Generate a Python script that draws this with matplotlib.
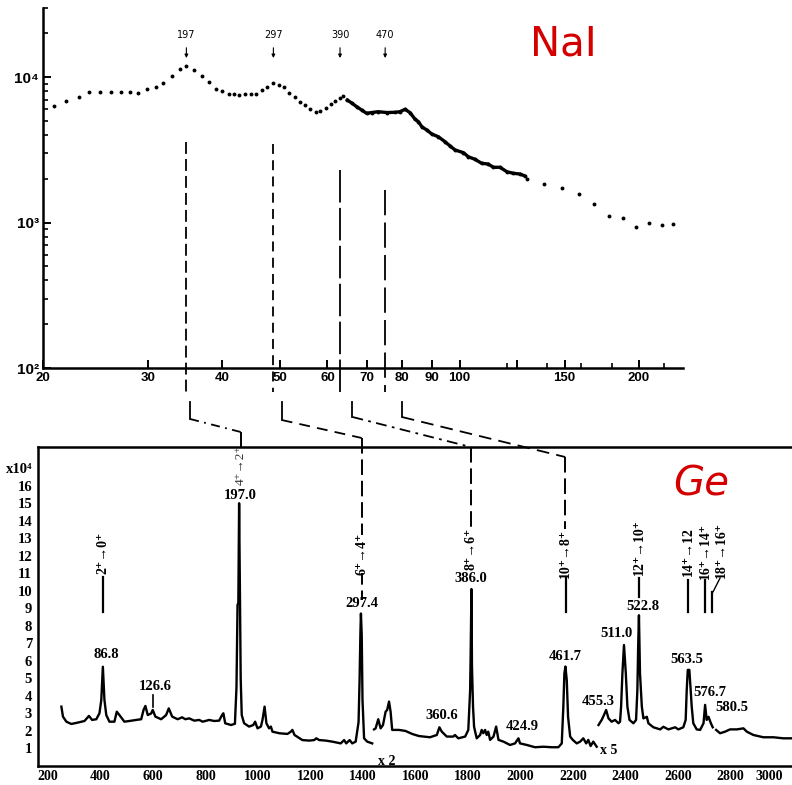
import numpy as np
import matplotlib.pyplot as plt
from matplotlib.lines import Line2D
from matplotlib.ticker import NullFormatter

W, H = 792, 785
SERIF = ['Liberation Serif', 'DejaVu Serif']
SANS = ['Liberation Sans', 'DejaVu Sans']

# ---- NaI spectrum (log-log) ----
nai_x = [20.9, 21.9, 23.0, 23.9, 24.9, 26.0, 27.0, 28.0, 28.9, 29.9, 30.9, 31.8, 32.9, 33.9,
         34.8, 35.9, 37.0, 38.0, 39.0, 40.0, 41.0, 41.9, 42.7, 43.6, 44.6, 45.6, 46.6, 47.6,
         48.7, 49.7, 50.7, 51.7, 52.9, 54.0, 55.0, 56.1, 57.4, 58.3, 59.6, 60.8, 61.9, 63.0, 63.7]
nai_y = [6350, 6840, 7290, 7850, 7850, 7850, 7850, 7850, 7760, 8230, 8540, 9140, 10160, 11290,
         11840, 11220, 10210, 9200, 8270, 8050, 7640, 7600, 7520, 7600, 7600, 7680, 8140, 8500,
         9140, 8850, 8500, 7800, 7255, 6760, 6420, 6000, 5775, 5835, 6150, 6493, 6870, 7175, 7400]
dense_x = [64.8, 66.0, 67.2, 68.6, 69.8, 71.2, 73.0, 75.5, 77.9, 79.4, 81.0, 82.6, 84.2, 85.3,
           86.4, 88.1, 89.8, 92.1, 94.5, 96.4, 98.3, 101.5, 103.4, 106.1, 108.9, 111.7, 113.9,
           116.9, 120.0, 123.1, 126.3, 128.7]
dense_y = [6950, 6595, 6250, 5905, 5630, 5700, 5775, 5700, 5720, 5775, 6000, 5683, 5120, 4930,
           4555, 4320, 4057, 3888, 3591, 3355, 3149, 3019, 2833, 2719, 2552, 2523, 2396,
           2396, 2234, 2178, 2154, 2087]
tail_x = [129.6, 138.7, 148.7, 158.8, 168.3, 178.3, 188.0, 198.0, 208.2, 218.5, 227.8]
tail_y = [1990, 1839, 1718, 1570, 1334, 1114, 1074, 936, 997, 961, 977]

nai_xticks = [20, 30, 40, 50, 60, 70, 80, 90, 100, 125, 150, 200]
nai_xlabels = ['20', '30', '40', '50', '60', '70', '80', '90', '100', '', '150', '200']
nai_xminor = [120, 140, 160, 180, 220]
nai_yticks = [1e2, 1e3, 1e4]
nai_ylabels = ['10²', '10³', '10⁴']

nai_peak_labels = ['197', '297', '390', '470']
nai_peak_x = [34.8, 48.7, 63.0, 75.0]
nai_link_top = [3575, 3460, 2300, 1670]
nai_link_low_x = [35.3, 50.3, 66.1, 80.0]

# ---- Ge spectrum (linear), counts in units of 1e4 ----
ge_seg1_ch = [251, 257, 270, 289, 314, 339, 356, 368, 384, 396, 403, 409, 415, 422, 434, 453,
              462, 472, 491, 510, 536, 555, 564, 571, 580, 593, 599, 609, 631, 650, 660, 673,
              694, 711, 723, 738, 757, 776, 789, 814, 833, 852, 863, 868, 875, 897, 912, 918,
              922, 925, 928, 931, 934, 938, 947, 966, 982, 989, 998, 1011, 1017, 1025, 1032,
              1042, 1049, 1055, 1081, 1112, 1125, 1131, 1139, 1169, 1195, 1214, 1222, 1233,
              1258, 1283, 1315, 1328, 1336, 1349, 1359, 1372, 1383, 1387, 1390, 1392, 1395,
              1398, 1404, 1416, 1435]
ge_seg1_v = [3.38, 2.81, 2.52, 2.39, 2.47, 2.56, 2.85, 2.62, 2.66, 3.0, 3.76, 5.66, 3.76, 2.9,
             2.52, 2.52, 3.09, 2.9, 2.52, 2.56, 2.62, 2.66, 3.19, 3.42, 2.9, 2.99, 3.19, 2.81,
             2.66, 2.9, 3.28, 2.81, 2.66, 2.77, 2.66, 2.71, 2.58, 2.62, 2.52, 2.62, 2.56, 2.58,
             2.9, 3.0, 2.43, 2.33, 2.4, 4.5, 9.2, 9.3, 15.0, 10.1, 5.0, 2.9, 2.43, 2.24, 2.33,
             2.52, 2.14, 2.24, 2.62, 3.38, 2.43, 2.14, 2.24, 1.95, 1.86, 1.82, 1.95, 2.05, 1.76,
             1.47, 1.44, 1.47, 1.57, 1.47, 1.44, 1.38, 1.28, 1.47, 1.28, 1.47, 1.28, 1.38, 2.5,
             5.0, 7.6, 8.7, 7.5, 3.76, 1.57, 1.38, 1.28]
ge_seg2_ch = [1442, 1448, 1458, 1467, 1476, 1486, 1492, 1499, 1505, 1511, 1537, 1562, 1587,
              1613, 1655, 1681, 1691, 1700, 1719, 1744, 1750, 1763, 1789, 1801, 1808, 1810,
              1813, 1815, 1819, 1823, 1833, 1846, 1852, 1858, 1865, 1871, 1877, 1884, 1897,
              1907, 1916, 1935, 1960, 1979, 1992, 1998, 2024, 2055, 2087, 2119, 2144, 2157,
              2163, 2167, 2171, 2176, 2181, 2189, 2199, 2214, 2227, 2239, 2250, 2258, 2267,
              2277, 2290]
ge_seg2_v = [2.08, 2.14, 2.66, 2.14, 2.33, 3.09, 3.19, 3.67, 3.09, 2.05, 2.05, 1.99, 1.82,
             1.7, 1.63, 1.76, 2.2, 1.95, 1.67, 1.67, 1.76, 1.57, 1.67, 2.05, 4.33, 6.4,
             10.1, 5.67, 3.38, 2.23, 1.57, 1.76, 2.05, 1.86, 2.05, 1.76, 1.95, 1.48, 1.67,
             2.24, 1.48, 1.38, 1.19, 1.28, 1.57, 1.28, 1.19, 1.06, 1.09, 1.06, 1.06, 1.28,
             3.38, 5.28, 5.67, 4.9, 2.8, 1.67, 1.48, 1.28, 1.38, 1.57, 1.28, 1.48, 1.13,
             1.38, 1.09]
ge_seg3_ch = [2297, 2309, 2316, 2326, 2335, 2347, 2360, 2373, 2379, 2383, 2388, 2394, 2401,
              2407, 2415, 2430, 2440, 2445, 2448, 2451, 2455, 2462, 2468, 2481, 2487, 2506,
              2532, 2544, 2563, 2589, 2601, 2620, 2629, 2633, 2637, 2643, 2648, 2652, 2658,
              2671, 2684, 2697, 2703, 2709, 2716, 2725, 2732]
ge_seg3_v = [2.33, 2.62, 2.84, 3.19, 2.71, 2.52, 2.62, 2.43, 2.52, 3.38, 5.28, 6.9, 5.28,
             3.38, 2.62, 2.43, 2.62, 4.33, 6.8, 8.6, 5.28, 3.38, 2.71, 2.8, 2.43, 2.2,
             2.08, 2.23, 2.08, 2.2, 2.08, 2.2, 2.62, 4.33, 5.48, 5.48, 4.33, 3.38, 2.43,
             2.08, 2.05, 2.43, 3.48, 2.62, 2.8, 2.43, 2.2]
ge_seg4_ch = [2745, 2760, 2779, 2798, 2824, 2849, 2862, 2887, 2925, 2963, 3001, 3034]
ge_seg4_v = [2.05, 1.86, 1.95, 2.08, 2.08, 2.14, 1.95, 1.76, 1.63, 1.63, 1.57, 1.57]

ge_xticks = list(range(200, 3001, 200))
ge_yticks = list(range(1, 18))
ge_ylabels = [str(i) for i in range(1, 17)] + ['x10⁴']

peak_lbl = ['86.8', '126.6', '197.0', '297.4', '360.6', '386.0', '424.9', '461.7', '455.3',
            '511.0', '522.8', '563.5', '576.7', '580.5']
peak_lbl_ch = [424, 608, 931, 1395, 1700, 1810, 2005, 2170, 2296, 2364, 2465, 2633, 2722, 2805]
peak_lbl_v = [6.33, 4.52, 15.47, 9.29, 2.85, 10.71, 2.23, 6.23, 3.70, 7.53, 9.09, 6.05, 4.18, 3.32]

trans_lbl = ['2⁺→0⁺', '6⁺→4⁺', '8⁺→6⁺', '10⁺→8⁺', '12⁺→10⁺', '14⁺→12', '16⁺→14⁺', '18⁺→16⁺']
trans_ch = [410, 1395, 1810, 2172, 2452, 2639, 2703, 2766]
trans_v = [12.16, 12.1, 12.39, 12.16, 12.52, 12.23, 12.27, 12.33]
trans_line_ch = [410, None, None, 2172, 2452, 2639, 2703, 2728]
trans_line_v = [(10.79, 8.79), None, None, (10.73, 8.8), (10.73, 9.66), (10.62, 8.8),
                (10.62, 8.8), (9.93, 8.79)]

ge_link_ch = [934, 1395, 1810, 2170]
ge_link_end_v = [18.2, 13.2, 13.4, 13.5]

# ---- figure ----
fig = plt.figure(figsize=(W / 100, H / 100), dpi=100)
ax1 = fig.add_axes([43 / W, 1 - 368 / H, 640 / W, 360.4 / H])
ax2 = fig.add_axes([37.7 / W, 1 - 765.8 / H, 754.3 / W, 319.1 / H])

ax1.plot(nai_x, nai_y, 'o', ms=2.8, color='k', mec='none')
ax1.plot(dense_x, dense_y, '-', lw=2.4, color='k')
ax1.plot(dense_x, dense_y, 'o', ms=2.8, color='k', mec='none')
ax1.plot(tail_x, tail_y, 'o', ms=2.8, color='k', mec='none')
ax1.set_xscale('log')
ax1.set_yscale('log')
ax1.set_xlim(20, 237)
ax1.set_ylim(100, 3e4)
ax1.set_xticks(nai_xticks, labels=nai_xlabels, fontweight='bold', family=SANS, fontsize=9.5)
ax1.set_xticks(nai_xminor, minor=True)
ax1.set_yticks(nai_yticks, labels=nai_ylabels, fontweight='bold', family=SANS, fontsize=11)
ax1.set_yticks([k * 10.0 ** n for n in (2, 3) for k in range(2, 10)] + [2e4, 3e4], minor=True)
ax1.xaxis.set_minor_formatter(NullFormatter())
ax1.yaxis.set_minor_formatter(NullFormatter())
ax1.tick_params(which='major', direction='in', length=6, width=1.4, pad=3)
ax1.tick_params(which='minor', direction='in', length=3.5, width=1.2)
for s in ('top', 'right'):
    ax1.spines[s].set_visible(False)
for s in ('left', 'bottom'):
    ax1.spines[s].set_linewidth(1.8)
ax1.patch.set_alpha(0)

for lab, xp in zip(nai_peak_labels, nai_peak_x):
    ax1.annotate(lab, xy=(xp, 13500), xytext=(xp, 19400), ha='center', va='center',
                 fontsize=7, arrowprops=dict(arrowstyle='-|>', lw=0.8, color='k',
                                             shrinkA=3.5, shrinkB=0, mutation_scale=5))
ax1.text(0.8125, 0.8976, 'NaI', transform=ax1.transAxes, ha='center', va='center',
         fontsize=29, color='#d40000')

# Ge spectrum
for xs, ys in [(ge_seg1_ch, ge_seg1_v), (ge_seg2_ch, ge_seg2_v),
               (ge_seg3_ch, ge_seg3_v), (ge_seg4_ch, ge_seg4_v)]:
    ax2.plot(xs, ys, '-', lw=1.7, color='k', solid_joinstyle='round')
ax2.set_xlim(160.8, 3034)
ax2.set_ylim(0, 18.23)
ax2.set_xticks(ge_xticks, labels=[str(t) for t in ge_xticks], fontweight='bold',
               family=SERIF, fontsize=10)
ax2.get_xticklabels()[-1].set_horizontalalignment('right')
ax2.set_yticks(ge_yticks, labels=ge_ylabels, fontweight='bold', family=SERIF, fontsize=10.5)
ax2.tick_params(length=0)
ax2.tick_params(axis='y', pad=4)
ax2.tick_params(axis='x', pad=3)
ax2.spines['right'].set_visible(False)
for s in ('left', 'bottom', 'top'):
    ax2.spines[s].set_linewidth(1.8)
ax2.patch.set_alpha(0)

for lab, c, v in zip(peak_lbl, peak_lbl_ch, peak_lbl_v):
    ax2.text(c, v, lab, ha='center', va='center', fontsize=10.5, fontweight='bold', family=SERIF)
for lab, c, v in zip(trans_lbl, trans_ch, trans_v):
    ax2.text(c, v, lab, rotation=90, ha='center', va='center', fontsize=10,
             fontweight='bold', family=SERIF)
ax2.text(934, 17.19, '4⁺→2⁺', rotation=90, ha='center', va='center', fontsize=9.5,
         family=SERIF, color='#333333')
for c, vv in zip(trans_line_ch, trans_line_v):
    if c is not None:
        ax2.plot([c, c], vv, '-', lw=1.6, color='k')
ax2.plot([2728, 2733, 2760], [9.93, 9.93, 10.73], '-', lw=1.0, color='k')
ax2.plot([600, 600], [4.05, 3.36], '-', lw=1.2, color='k')
ax2.plot([1395, 1395], [11.0, 9.5], lw=1.4, color='k', ls=(0, (6, 3)))
ax2.text(1490, 0.23, 'x 2', ha='center', va='center', fontsize=10, fontweight='bold', family=SERIF)
ax2.text(2334, 0.86, 'x 5', ha='center', va='center', fontsize=10, fontweight='bold', family=SERIF)
ax2.text(0.879, 0.883, 'Ge', transform=ax2.transAxes, ha='center', va='center',
         fontsize=29, color='#d40000', style='italic')

# connectors between the two spectra (figure coordinates)
to_fig = fig.transFigure.inverted()


def fx(ax, x):
    return to_fig.transform(ax.transData.transform((x, 1)))[0]


def fy_data(ax, x, y):
    return to_fig.transform(ax.transData.transform((x, y)))[1]


def fy_px(p):
    return 1 - p / H


upper_ls = [(0, (6.6, 2.8)), (0, (5.5, 3.5)), (0, (18, 3)), (0, (14, 4))]
diag_ls = [(0, (5, 3, 1, 3)), (0, (6, 4)), (0, (6, 3, 1.5, 3)), (0, (7, 4))]
lower_end_px = [419, 420, 417, 417]
ge_kink_px = [432, 438, 447, 457]
for i in range(4):
    xa = fx(ax1, nai_peak_x[i])
    xb = fx(ax1, nai_link_low_x[i])
    xc = fx(ax2, ge_link_ch[i])
    ytop = fy_data(ax1, nai_peak_x[i], nai_link_top[i])
    fig.add_artist(Line2D([xa, xa], [ytop, fy_px(392)], transform=fig.transFigure,
                          color='k', lw=1.3, ls=upper_ls[i]))
    fig.add_artist(Line2D([xb, xb], [fy_px(402), fy_px(lower_end_px[i])],
                          transform=fig.transFigure, color='k', lw=1.3))
    fig.add_artist(Line2D([xb, xc], [fy_px(lower_end_px[i]), fy_px(ge_kink_px[i])],
                          transform=fig.transFigure, color='k', lw=1.3, ls=diag_ls[i]))
    yend = fy_data(ax2, ge_link_ch[i], ge_link_end_v[i])
    fig.add_artist(Line2D([xc, xc], [fy_px(ge_kink_px[i]), yend], transform=fig.transFigure,
                          color='k', lw=1.4, ls=(0, (8, 3))))

fig.savefig('out.png', dpi=100)
